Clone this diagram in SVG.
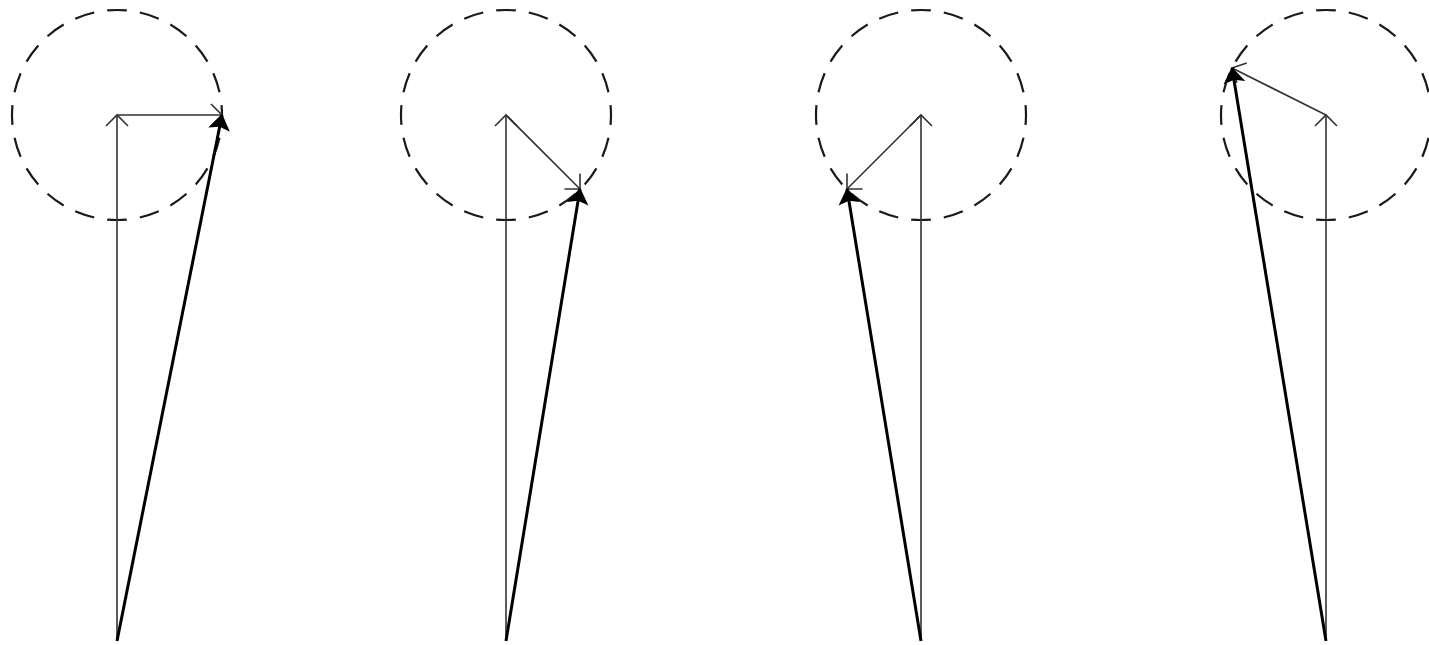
<svg xmlns="http://www.w3.org/2000/svg" width="1429" height="645" viewBox="0 0 1429 645">
  <style>
    .circ { fill: none; stroke: #1a1a1a; stroke-width: 2.2; stroke-dasharray: 20 13; stroke-dashoffset: 10; }
    .thin { stroke: #333; stroke-width: 1.6; fill: none; marker-end: url(#open); }
    .thick { stroke: #000; stroke-width: 3; fill: none; marker-end: url(#filled); }
  </style>
  <defs>
    <marker id="open" viewBox="-15 -15 30 30" markerWidth="30" markerHeight="30" refX="0" refY="0" orient="auto" markerUnits="userSpaceOnUse" overflow="visible">
      <path d="M-11,-11 L0,0 L-11,11" fill="none" stroke="#333" stroke-width="1.6"/>
    </marker>
    <marker id="filled" viewBox="-20 -15 25 30" markerWidth="25" markerHeight="30" refX="0" refY="0" orient="auto" markerUnits="userSpaceOnUse" overflow="visible">
      <path d="M1,0 L-15,-11 L-12,0 L-15,11 Z" fill="#000"/>
    </marker>
  </defs>

  <g id="panel1">
    <circle class="circ" cx="117" cy="115" r="105" pathLength="660"/>
  </g>
  <g id="panel2">
    <circle class="circ" cx="506" cy="115" r="105" pathLength="660"/>
  </g>
  <g id="panel3">
    <circle class="circ" cx="921" cy="115" r="105" pathLength="660"/>
  </g>
  <g id="panel4">
    <circle class="circ" cx="1326" cy="115" r="105" pathLength="660"/>
  </g>

  <g id="connectors">
    <line class="thin" x1="117" y1="641" x2="117" y2="115"/>
    <line class="thin" x1="117" y1="115" x2="222" y2="115"/>
    <line class="thick" x1="117" y1="641" x2="222" y2="115"/>

    <line class="thin" x1="506" y1="641" x2="506" y2="115"/>
    <line class="thin" x1="506" y1="115" x2="580" y2="189"/>
    <line class="thick" x1="506" y1="641" x2="580" y2="189"/>

    <line class="thin" x1="921" y1="641" x2="921" y2="115"/>
    <line class="thin" x1="921" y1="115" x2="847" y2="189"/>
    <line class="thick" x1="921" y1="641" x2="847" y2="189"/>

    <line class="thin" x1="1326" y1="641" x2="1326" y2="115"/>
    <line class="thin" x1="1326" y1="115" x2="1232" y2="68"/>
    <line class="thick" x1="1326" y1="641" x2="1232" y2="68"/>
  </g>
</svg>
